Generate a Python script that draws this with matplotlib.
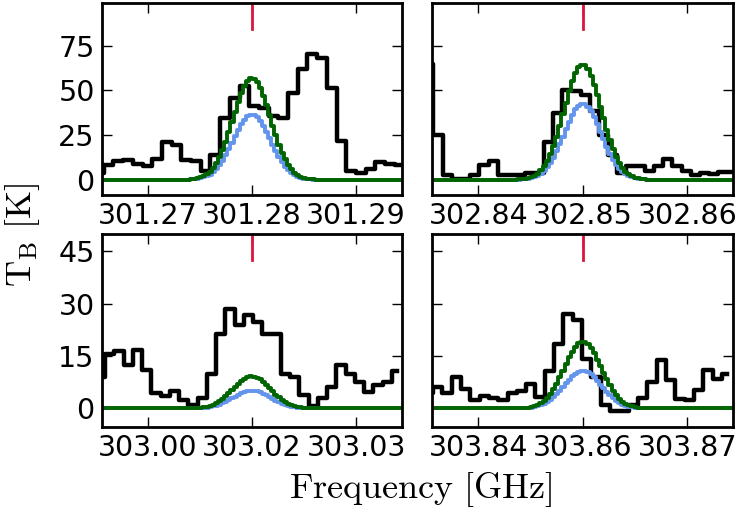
import numpy as np
import matplotlib
matplotlib.use('Agg')
from matplotlib import pyplot as plt

plt.rcParams['mathtext.fontset'] = 'cm'

# rest frequencies of the four transitions [GHz]
centres = [301.28, 302.85, 303.015, 303.855]
tick_labels = [['301.27', '301.28', '301.29'],
               ['302.84', '302.85', '302.86'],
               ['303.00', '303.02', '303.03'],
               ['303.84', '303.86', '303.87']]

# observed spectra: first full channel edge (offset from centre), channel width [GHz]
obs_edge0 = [-0.0142, -0.0143, -0.01406, -0.01434]
obs_width = [0.00093, 0.00088, 0.000887, 0.000892]

# brightness temperature per channel [K]
tb_301 = [3.7, 8.4, 10.3, 10.8, 9.0, 7.5, 11.6, 20.9, 19.6, 11.2, 10.3, 5.2,
          13.6, 34.5, 45.7, 52.2, 41.4, 40.0, 35.4, 34.5, 48.5, 62.0, 70.5,
          68.0, 51.3, 21.5, 5.2, 3.7, 6.0, 9.9, 8.8, 8.0]
tb_302 = [65.0, 25.2, 2.8, 0.4, 0.4, 2.8, 8.4, 10.3, 2.8, 2.8, 2.8, 3.7,
          3.7, 20.9, 37.3, 50.4, 49.4, 47.6, 38.2, 25.2, 14.0, 3.7, 7.5,
          7.8, 5.2, 7.5, 11.6, 7.5, 5.2, 2.8, 3.7, 3.2, 4.1, 4.1]
tb_303a = [9.1, 15.7, 16.4, 12.6, 16.7, 11.0, 4.3, 3.6, 5.1, 2.4, 1.0, 2.9,
           10.0, 21.4, 28.4, 23.8, 26.7, 24.8, 21.4, 21.4, 10.0, 9.1, 3.8,
           0.8, 2.9, 6.2, 12.6, 10.0, 7.6, 4.8, 6.7, 7.6, 10.7]
tb_303b = [4.3, 6.2, 4.3, 9.1, 5.7, 2.4, 3.6, 3.1, 2.4, 4.3, 5.1, 6.9, 3.3,
           10.8, 18.6, 27.2, 25.3, 14.3, 9.1, 1.0, -0.8, -0.8, 1.0, 3.1, 7.6,
           13.8, 8.1, 2.7, 2.4, 5.2, 11.0, 8.4, 10.0]
observed = [tb_301, tb_302, tb_303a, tb_303b]

# model line profiles: peak T_B [K] and common FWHM [GHz]
model_blue_peak = [36.4, 42.5, 5.1, 10.8]
model_green_peak = [56.9, 64.4, 9.2, 19.1]
model_fwhm = 0.0042
model_step = 0.0003

yticks = [[0, 25, 50, 75], [0, 25, 50, 75], [0, 15, 30, 45], [0, 15, 30, 45]]
ylims = [(-8.5, 99), (-8.5, 99), (-5.3, 50), (-5.3, 50)]
half_span = 0.0144

fig = plt.figure(figsize=(7.39, 5.14), dpi=100)
boxes = [[0.1376, 0.6206, 0.4064, 0.3741],
         [0.5850, 0.6206, 0.4073, 0.3741],
         [0.1376, 0.1693, 0.4064, 0.3754],
         [0.5850, 0.1693, 0.4073, 0.3754]]

sigma = model_fwhm / (2 * np.sqrt(2 * np.log(2)))
for i, box in enumerate(boxes):
    ax = fig.add_axes(box)
    f0 = centres[i]
    tb = np.array(observed[i])
    freq = f0 + obs_edge0[i] + obs_width[i] * (np.arange(len(tb)) - 0.5)
    ax.step(freq, tb, where='mid', color='k', lw=3.2)

    fm = f0 + np.arange(-0.016, 0.016, model_step)
    prof = np.exp(-0.5 * ((fm - f0) / sigma) ** 2)
    ax.step(fm, model_blue_peak[i] * prof, where='mid', color='#6495ed', lw=2.8)
    ax.step(fm, model_green_peak[i] * prof, where='mid', color='#006400', lw=2.8)

    ax.axvline(f0, ymin=0.865, ymax=1.0, color='#dc143c', lw=2)

    ax.set_xlim(f0 - half_span, f0 + half_span)
    ax.set_ylim(*ylims[i])
    ax.set_xticks([f0 - 0.01, f0, f0 + 0.01])
    ax.set_xticklabels(tick_labels[i])
    ax.set_yticks(yticks[i])
    if i % 2 == 1:
        ax.set_yticklabels([])
    ax.tick_params(direction='in', top=True, right=True, length=7, width=1,
                   labelsize=20.5, pad=5)
    for sp in ax.spines.values():
        sp.set_linewidth(2)

fig.text(0.03, 0.543, r'$\mathrm{T_B\ [K]}$', rotation=90, fontsize=26,
         ha='center', va='center')
fig.text(0.57, 0.047, r'$\mathrm{Frequency\ [GHz]}$', fontsize=26,
         ha='center', va='center')

fig.savefig('out.png', dpi=100)
